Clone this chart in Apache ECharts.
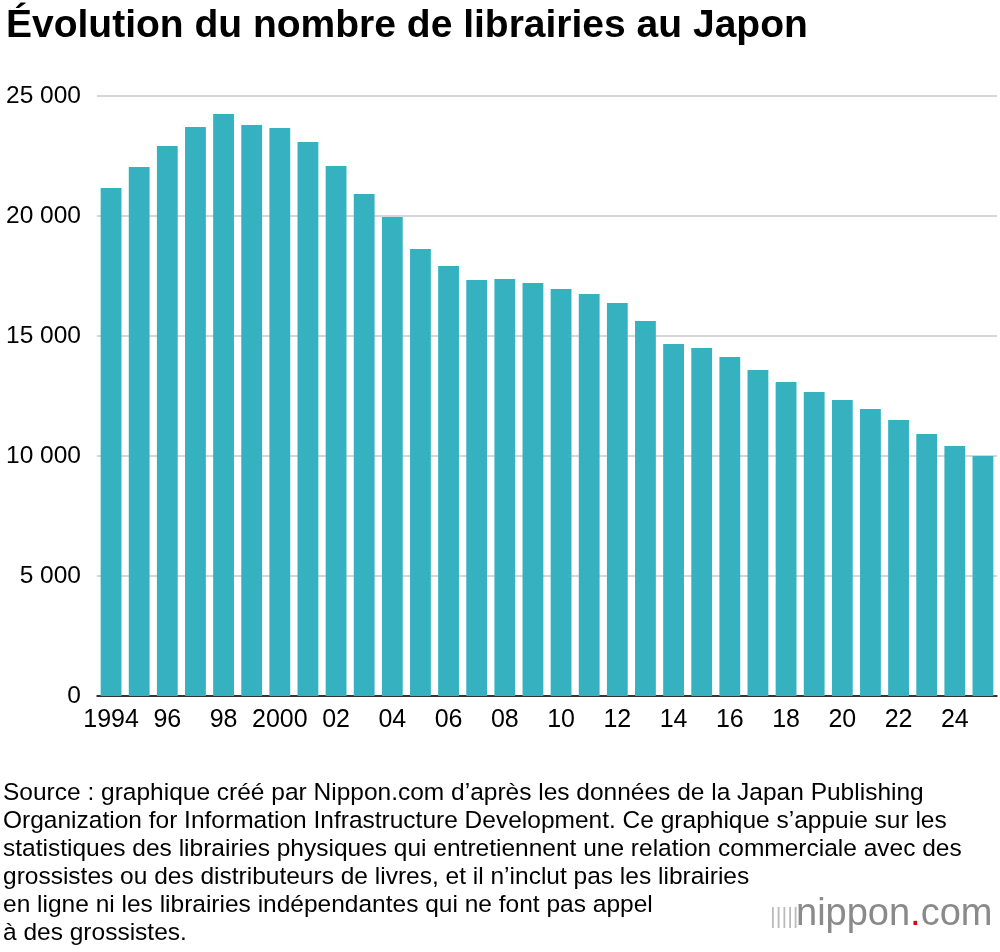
<!DOCTYPE html>
<html><head><meta charset="utf-8">
<script src="https://cdn.jsdelivr.net/npm/echarts@6/dist/echarts.min.js"></script>
<style>body{margin:0;background:#fff}#c{width:1000px;height:952px}</style>
</head><body><div id="c"></div>
<script>
const years = [];
for (let y = 1994; y <= 2025; y++) years.push(String(y));
const tickLabels = {1994:'1994',1996:'96',1998:'98',2000:'2000',2002:'02',2004:'04',2006:'06',2008:'08',2010:'10',2012:'12',2014:'14',2016:'16',2018:'18',2020:'20',2022:'22',2024:'24'};
const stores = [21170,22040,22920,23710,24250,23790,23670,23080,22080,20920,19960,18620,17920,17330,17375,17210,16960,16750,16375,15625,14670,14500,14125,13580,13080,12670,12330,11960,11500,10920,10420,10000];
const chart = echarts.init(document.getElementById('c'));
const F = 'Liberation Sans, Arial, sans-serif';
chart.setOption({
  animation:false,
  title:{text:'Évolution du nombre de librairies au Japon',left:1,top:2,textStyle:{fontFamily:F,fontSize:39,fontWeight:'bold',color:'#000'}},
  grid:{left:97,right:3,top:96,bottom:256},
  xAxis:{type:'category',data:years,axisTick:{show:false},
    axisLine:{lineStyle:{color:'#000',width:1.5}},
    axisLabel:{interval:0,color:'#000',fontFamily:F,fontSize:25,margin:12,formatter:v=>tickLabels[v]||''}},
  yAxis:{type:'value',min:0,max:25000,interval:5000,
    axisLabel:{color:'#000',fontFamily:F,fontSize:24.5,margin:16,formatter:v=>v===0?'0':String(v).replace(/(\d+)(\d{3})$/,'$1 $2')},
    splitLine:{lineStyle:{color:'#c8c8c8',width:1.5}}},
  series:[{type:'bar',data:stores,barWidth:'74%',itemStyle:{color:'#35b1c0'}}],
  graphic:[
    {type:'text',left:3,top:779,style:{text:"Source : graphique créé par Nippon.com d’après les données de la Japan Publishing\nOrganization for Information Infrastructure Development. Ce graphique s’appuie sur les\nstatistiques des librairies physiques qui entretiennent une relation commerciale avec des\ngrossistes ou des distributeurs de livres, et il n’inclut pas les librairies\nen ligne ni les librairies indépendantes qui ne font pas appel\nà des grossistes.",font:'24.5px '+F,lineHeight:28,fill:'#000'}},
    {type:'text',left:770,top:906,style:{text:'|||||',font:'22px '+F,fill:'#bbb'}},
    {type:'text',left:796,top:896,style:{rich:{a:{fontSize:38,fontFamily:F,fill:'#8a8a8a'},r:{fontSize:38,fontFamily:F,fill:'#e60012'}},text:'{a|nippon}{r|.}{a|com}'}}
  ]
});
</script></body></html>
